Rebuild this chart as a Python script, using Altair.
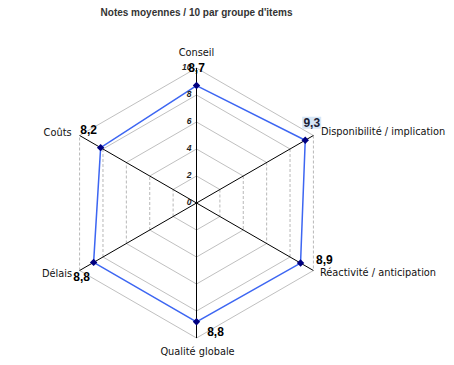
import altair as alt
import pandas as pd

# ---- data ----
categories = ["Conseil", "Disponibilité / implication", "Réactivité / anticipation",
              "Qualité globale", "Délais", "Coûts"]
values = [8.7, 9.3, 8.9, 8.8, 8.8, 8.2]
value_labels = ["8,7", "9,3", "8,9", "8,8", "8,8", "8,2"]
grid_levels = [2, 4, 6, 8, 10]
tick_values = [0, 2, 4, 6, 8, 10]
tick_labels = ["0", "2", "4", "6", "8", "10"]
title_text = "Notes moyennes / 10 par groupe d'items"

# ---- layout constants (styles, not data) ----
W, H = 438, 349
UNIT = 13.5            # px per score point
CX, CY = 188.5, 195    # centre in plot px
RMAX = 10
FONT = "Liberation Sans"
CAT_FONT = "DejaVu Sans"
n = len(categories)

xscale = alt.Scale(domain=[-CX / UNIT, (W - CX) / UNIT], nice=False, zero=False)
yscale = alt.Scale(domain=[-(H - CY) / UNIT, CY / UNIT], nice=False, zero=False)

ang = "(90 - 60 * datum.idx) * PI / 180"

# series
series = pd.DataFrame({"cat": categories, "val": values, "lab": value_labels,
                       "idx": list(range(n))})
closed = pd.concat([series, series.iloc[[0]]], ignore_index=True)
closed["ord"] = list(range(n)) + [n]

# grid edges
grid_rows = []
for lv in grid_levels:
    for i in range(n):
        grid_rows.append({"lv": lv, "i": i, "j": (i + 1) % n,
                          "vert": i in (1, 4)})
grid = pd.DataFrame(grid_rows)

# spokes
spokes = pd.DataFrame({"idx": list(range(n)), "r": [RMAX] * n})

ticks = pd.DataFrame({"v": tick_values, "t": tick_labels})


def X(r_expr, a_expr):
    return f"({r_expr}) * cos({a_expr})"


def Y(r_expr, a_expr):
    return f"({r_expr}) * sin({a_expr})"


ai = "(90 - 60 * datum.i) * PI / 180"
aj = "(90 - 60 * datum.j) * PI / 180"

grid_base = alt.Chart(grid).transform_calculate(
    x1=X("datum.lv", ai), y1=Y("datum.lv", ai),
    x2=X("datum.lv", aj), y2=Y("datum.lv", aj))
grid_enc = dict(x=alt.X("x1:Q", scale=xscale, axis=None),
                y=alt.Y("y1:Q", scale=yscale, axis=None),
                x2="x2:Q", y2="y2:Q")
grid_solid = grid_base.transform_filter("!datum.vert").mark_rule(
    color="#c0c0c0", strokeWidth=1).encode(**grid_enc)
grid_dash = grid_base.transform_filter("datum.vert").mark_rule(
    color="#b8b8b8", strokeWidth=1, strokeDash=[3, 2]).encode(**grid_enc)

spoke_layer = alt.Chart(spokes).transform_calculate(
    x1="0", y1="0", x2=X("datum.r", ang), y2=Y("datum.r", ang)
).mark_rule(color="black", strokeWidth=1).encode(
    x=alt.X("x1:Q", scale=xscale, axis=None),
    y=alt.Y("y1:Q", scale=yscale, axis=None),
    x2="x2:Q", y2="y2:Q")

pts = alt.Chart(closed).transform_calculate(
    px=X("datum.val", ang), py=Y("datum.val", ang))

line_layer = pts.mark_line(color="#3d66f2", strokeWidth=1.5).encode(
    x=alt.X("px:Q", scale=xscale, axis=None),
    y=alt.Y("py:Q", scale=yscale, axis=None),
    order="ord:Q")

pt_layer = pts.transform_filter(f"datum.ord < {n}").mark_point(
    shape="diamond", filled=True, color="#000080", opacity=1, size=55).encode(
    x=alt.X("px:Q", scale=xscale, axis=None),
    y=alt.Y("py:Q", scale=yscale, axis=None))

tick_layer = alt.Chart(ticks).mark_text(
    font=FONT, fontSize=8.5, fontStyle="italic", fontWeight="bold",
    align="right", baseline="middle", dx=-5, dy=-1, color="#222222").encode(
    x=alt.value(CX), y=alt.Y("v:Q", scale=yscale, axis=None), text="t:N")

# category labels
cat_style = [  # (dx, dy, align)
    (0, -15, "center"), (7.5, -3.5, "left"), (6.5, 2.5, "left"),
    (1, 14, "center"), (-7.5, 3, "right"), (-8, -3, "right")]
# value labels
val_style = [  # (dx, dy, align)
    (0, -17.5, "center"), (6.5, -17.5, "center"), (15.5, -3.5, "left"),
    (19, 10.5, "center"), (-12, 14.5, "center"), (-12, -18, "center")]

layers = [grid_solid, grid_dash, spoke_layer]

cat_base = alt.Chart(series).transform_calculate(
    lx=X(str(RMAX), ang), ly=Y(str(RMAX), ang))
val_base = alt.Chart(series).transform_calculate(
    px=X("datum.val", ang), py=Y("datum.val", ang))

# highlight box behind 9,3
box = val_base.transform_filter("datum.idx == 1").mark_rect(
    color="#d6e6f6", width=19, height=12, xOffset=6.5, yOffset=-17.5).encode(
    x=alt.X("px:Q", scale=xscale, axis=None),
    y=alt.Y("py:Q", scale=yscale, axis=None))
layers += [line_layer, pt_layer, tick_layer, box]

for i in range(n):
    dx, dy, al = cat_style[i]
    layers.append(cat_base.transform_filter(f"datum.idx == {i}").mark_text(
        font=CAT_FONT, fontSize=9.8, align=al, baseline="middle", dx=dx, dy=dy,
        color="#111111").encode(
        x=alt.X("lx:Q", scale=xscale, axis=None),
        y=alt.Y("ly:Q", scale=yscale, axis=None), text="cat:N"))
    dx, dy, al = val_style[i]
    layers.append(val_base.transform_filter(f"datum.idx == {i}").mark_text(
        font=FONT, fontSize=12, fontWeight="bold", align=al, baseline="middle",
        dx=dx, dy=dy, color="#1a2236" if i == 1 else "#000000").encode(
        x=alt.X("px:Q", scale=xscale, axis=None),
        y=alt.Y("py:Q", scale=yscale, axis=None), text="lab:N"))

title_layer = alt.Chart(pd.DataFrame({"t": [title_text]})).mark_text(
    font=FONT, fontSize=10, fontWeight="bold", align="center", baseline="middle",
    color="#333333").encode(x=alt.value(CX), y=alt.value(5), text="t:N")
layers.append(title_layer)

chart = alt.layer(*layers).properties(
    width=W, height=H, autosize=alt.AutoSizeParams(type="none"),
    padding=0, background="white"
).configure_view(stroke=None)

chart.save("out.html", embed_options={"renderer": "svg", "actions": False})
